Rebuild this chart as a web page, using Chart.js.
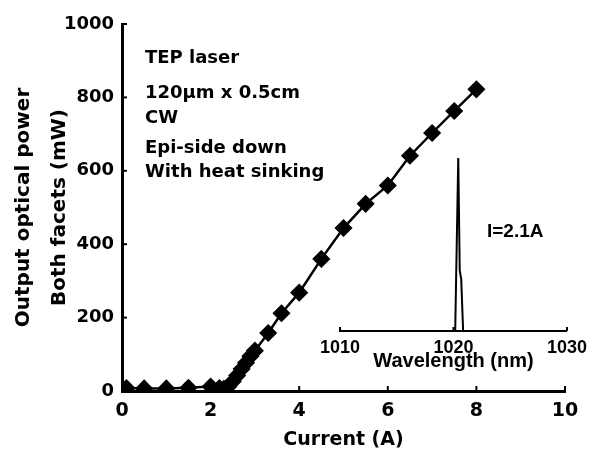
<!DOCTYPE html>
<html>
<head>
<meta charset="utf-8">
<script src="https://cdn.jsdelivr.net/npm/chart.js@4.4.1/dist/chart.umd.min.js"></script>
<style>
  html, body { margin: 0; padding: 0; background: #fff; }
  #wrap { position: relative; width: 593px; height: 451px; }
  #main { position: absolute; left: 0; top: 0; }
  #inset { position: absolute; left: 300px; top: 140px; }
</style>
</head>
<body>
<div id="wrap">
  <canvas id="main" width="593" height="451"></canvas>
  <canvas id="inset" width="293" height="240"></canvas>
</div>
<script>
// L-I curve
const currentA = [0.1, 0.5, 1.0, 1.5, 2.0, 2.2, 2.3, 2.4, 2.5, 2.6, 2.7, 2.8, 2.9, 3.0, 3.3, 3.6, 4.0, 4.5, 5.0, 5.5, 6.0, 6.5, 7.0, 7.5, 8.0];
const powerMW  = [8, 7, 7, 9, 12, 8, 6, 12, 26, 42, 60, 77, 95, 110, 158, 212, 268, 360, 444, 510, 560, 641, 703, 763, 822];
const currentTicks = [0, 2, 4, 6, 8, 10];
const powerTicks = [0, 200, 400, 600, 800, 1000];

// inset spectrum at I = 2.1 A
const wavelengthNm = [1010, 1020.15, 1020.42, 1020.55, 1020.68, 1020.85, 1030];
const intensity    = [0, 0, 1, 0.35, 0.3, 0, 0];
const wavelengthTicks = [1010, 1020, 1030];

const notes = ['TEP laser', '120\u03bcm x 0.5cm', 'CW', 'Epi-side down', 'With heat sinking'];

const MAIN_FONT = 'DejaVu Sans';
const INSET_FONT = 'Liberation Sans';

// tick marks pointing into the plot
const inwardTicks = {
  id: 'inwardTicks',
  afterDraw(chart, args, opts) {
    const ctx = chart.ctx;
    const len = opts.length || 5;
    ctx.save();
    ctx.strokeStyle = '#000';
    ctx.lineWidth = opts.width || 2;
    ['x', 'y'].forEach(id => {
      const s = chart.scales[id];
      if (!s || !s.options.display) return;
      s.ticks.forEach(t => {
        const p = s.getPixelForValue(t.value);
        ctx.beginPath();
        if (s.isHorizontal()) {
          ctx.moveTo(p, s.top);
          ctx.lineTo(p, s.top - len);
        } else {
          ctx.moveTo(s.right, p);
          ctx.lineTo(s.right + len, p);
        }
        ctx.stroke();
      });
    });
    ctx.restore();
  }
};

const notesPlugin = {
  id: 'notes',
  afterDraw(chart) {
    const ctx = chart.ctx;
    const baselines = [63, 98, 123, 153, 177];
    ctx.save();
    ctx.fillStyle = '#000';
    ctx.font = 'bold 18px "' + MAIN_FONT + '"';
    ctx.textBaseline = 'alphabetic';
    ctx.textAlign = 'left';
    notes.forEach((t, i) => ctx.fillText(t, 145, baselines[i]));
    ctx.restore();
  }
};

const plain = v => String(v);

new Chart(document.getElementById('main'), {
  type: 'line',
  data: {
    datasets: [{
      data: currentA.map((x, i) => ({ x: x, y: powerMW[i] })),
      borderColor: '#000',
      borderWidth: 2.5,
      backgroundColor: '#000',
      pointStyle: 'rectRot',
      pointRadius: 8,
      pointBorderWidth: 1.5,
      pointBackgroundColor: '#000',
      pointBorderColor: '#000',
      tension: 0
    }]
  },
  options: {
    responsive: false,
    animation: false,
    layout: { padding: { top: 24, right: 28, left: 0, bottom: 0 } },
    plugins: {
      legend: { display: false },
      tooltip: { enabled: false },
      inwardTicks: { length: 5, width: 2 }
    },
    scales: {
      x: {
        type: 'linear',
        min: 0, max: 10,
        afterBuildTicks: s => { s.ticks = currentTicks.map(v => ({ value: v })); },
        afterFit: s => { s.height = 60; },
        grid: { display: false, drawTicks: false },
        border: { color: '#000', width: 3 },
        ticks: { color: '#000', padding: 9, callback: plain, font: { family: MAIN_FONT, size: 19, weight: 'bold' } },
        title: {
          display: true, text: 'Current (A)', color: '#000',
          padding: { top: 0, bottom: 0 },
          font: { family: MAIN_FONT, size: 19, weight: 'bold' }
        }
      },
      y: {
        min: 0, max: 1000,
        afterBuildTicks: s => { s.ticks = powerTicks.map(v => ({ value: v })); },
        afterFit: s => { s.width = 122; },
        grid: { display: false, drawTicks: false },
        border: { color: '#000', width: 3 },
        ticks: { color: '#000', padding: 8, callback: plain, font: { family: MAIN_FONT, size: 18, weight: 'bold' } },
        title: {
          display: true, text: ['Output optical power', 'Both facets (mW)'], color: '#000',
          padding: { top: 6, bottom: 0 },
          font: { family: MAIN_FONT, size: 20, weight: 'bold', lineHeight: 1.8 }
        }
      }
    }
  },
  plugins: [inwardTicks, notesPlugin]
});

const insetLabel = {
  id: 'insetLabel',
  afterDraw(chart) {
    const ctx = chart.ctx;
    ctx.save();
    ctx.fillStyle = '#000';
    ctx.font = 'bold 19px "' + INSET_FONT + '"';
    ctx.textBaseline = 'alphabetic';
    ctx.fillText('I=2.1A', 187, 97);
    ctx.restore();
  }
};

new Chart(document.getElementById('inset'), {
  type: 'line',
  data: {
    datasets: [{
      data: wavelengthNm.map((x, i) => ({ x: x, y: intensity[i] })),
      borderColor: '#000',
      borderWidth: 2,
      pointRadius: 0,
      tension: 0
    }]
  },
  options: {
    responsive: false,
    animation: false,
    layout: { padding: { top: 18, right: 22, left: 40, bottom: 0 } },
    plugins: {
      legend: { display: false },
      tooltip: { enabled: false },
      inwardTicks: { length: 4, width: 2 }
    },
    scales: {
      x: {
        type: 'linear',
        min: 1010, max: 1030,
        afterBuildTicks: s => { s.ticks = wavelengthTicks.map(v => ({ value: v })); },
        afterFit: s => { s.height = 49; },
        grid: { display: false, drawTicks: false },
        border: { color: '#000', width: 2 },
        ticks: { color: '#000', padding: 6, callback: plain, font: { family: INSET_FONT, size: 18, weight: 'bold' } },
        title: {
          display: true, text: 'Wavelength (nm)', color: '#000',
          padding: { top: 0, bottom: 7 },
          font: { family: INSET_FONT, size: 20, weight: 'bold' }
        }
      },
      y: { display: false, min: 0, max: 1 }
    }
  },
  plugins: [inwardTicks, insetLabel]
});
</script>
</body>
</html>
